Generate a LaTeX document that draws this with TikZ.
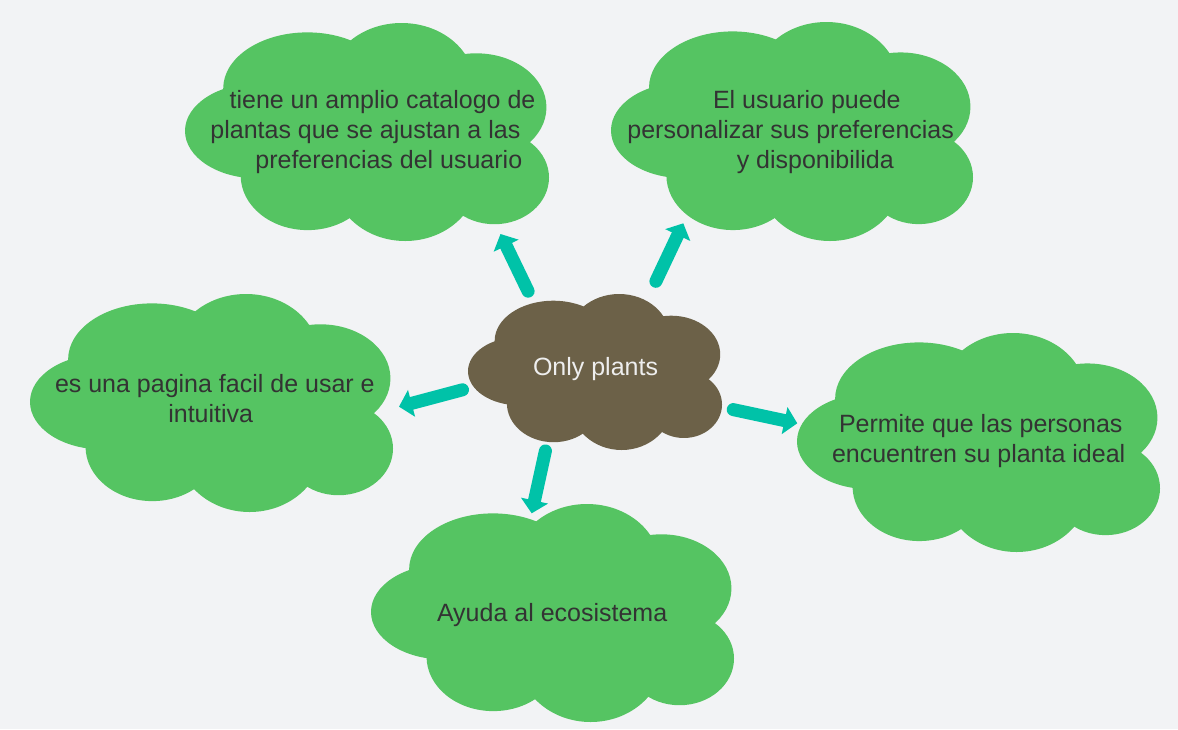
\documentclass[tikz,border=0pt]{standalone}
\usepackage{fontspec}
\setmainfont{Liberation Sans}
\usetikzlibrary{arrows.meta}
\definecolor{bgc}{HTML}{F2F3F5}
\definecolor{leaf}{HTML}{55C462}
\definecolor{soil}{HTML}{6C6148}
\definecolor{teal}{HTML}{00C2A8}
\definecolor{ink}{HTML}{333333}
\definecolor{paleink}{HTML}{EEEEEE}
% cloud: #1,#2 = top-left corner, #3,#4 = width, height, #5 = colour
\newcommand\cloudpuffs[5]{%
  \begin{scope}[shift={(#1,#2)},xscale=#3,yscale=#4]
    \fill[#5] (0.200,0.495) ellipse [x radius=0.200, y radius=0.218];
    \fill[#5] (0.336,0.300) ellipse [x radius=0.231, y radius=0.257];
    \fill[#5] (0.595,0.280) ellipse [x radius=0.200, y radius=0.280];
    \fill[#5] (0.800,0.387) ellipse [x radius=0.193, y radius=0.248];
    \fill[#5] (0.850,0.709) ellipse [x radius=0.150, y radius=0.214];
    \fill[#5] (0.605,0.705) ellipse [x radius=0.200, y radius=0.295];
    \fill[#5] (0.337,0.700) ellipse [x radius=0.184, y radius=0.250];
    \fill[#5] (0.20,0.30) rectangle (0.90,0.75);
  \end{scope}}
\tikzset{
  label text/.style={anchor=base west, inner sep=0pt, outer sep=0pt,
    font=\fontsize{25}{30}\selectfont, text=ink},
  connector/.style={draw=teal, line width=13pt, line cap=round,
    -{Triangle[length=13pt,width=27pt]}},
}
\begin{document}
\begin{tikzpicture}[x=1pt,y=-1pt]
  \useasboundingbox (0,0) rectangle (1178,729);
  \fill[bgc] (0,0) rectangle (1178,729);
  % clouds
  \cloudpuffs{185}{23}{364}{218}{leaf}
  \cloudpuffs{611}{22}{362}{219}{leaf}
  \cloudpuffs{30}{294}{363}{218}{leaf}
  \cloudpuffs{797}{333}{363}{219}{leaf}
  \cloudpuffs{371}{504}{363}{218}{leaf}
  \cloudpuffs{468}{294}{254}{156}{soil}
  % texts
  \node[label text] (catalog) at (210.4,108)
    {\vtop{\hbox{\kern19.2pt tiene un amplio catalogo de}\hbox{plantas que se ajustan a las}\hbox{\kern45pt preferencias del usuario}}};
  \node[label text] (prefs) at (627.4,108)
    {\vtop{\hbox{\kern85.6pt El usuario puede}\hbox{personalizar sus preferencias}\hbox{\kern109.4pt y disponibilida}}};
  \node[label text] (easy) at (55,392)
    {\vtop{\hbox{es una pagina facil de usar e}\hbox{\kern113.3pt intuitiva}}};
  \node[label text] (ideal) at (832,432)
    {\vtop{\hbox{\kern7pt Permite que las personas}\hbox{encuentren su planta ideal}}};
  \node[label text] (eco) at (437,621) {Ayuda al ecosistema};
  \node[label text, text=paleink] (only) at (533,375) {Only plants};
  % connector ends
  \coordinate (s1) at (528.1,291.2); \coordinate (e1) at (500.5,234);
  \coordinate (s2) at (655.9,281.3); \coordinate (e2) at (683.3,223.3);
  \coordinate (s3) at (545.4,450.9); \coordinate (e3) at (531.7,513.3);
  \coordinate (s4) at (462.5,389.8); \coordinate (e4) at (399,406.7);
  \coordinate (s5) at (733.2,409.6); \coordinate (e5) at (797.3,423.3);
  \draw[connector] (s1) -- (e1);
  \draw[connector] (s2) -- (e2);
  \draw[connector] (s3) -- (e3);
  \draw[connector] (s4) -- (e4);
  \draw[connector] (s5) -- (e5);
\end{tikzpicture}
\end{document}
